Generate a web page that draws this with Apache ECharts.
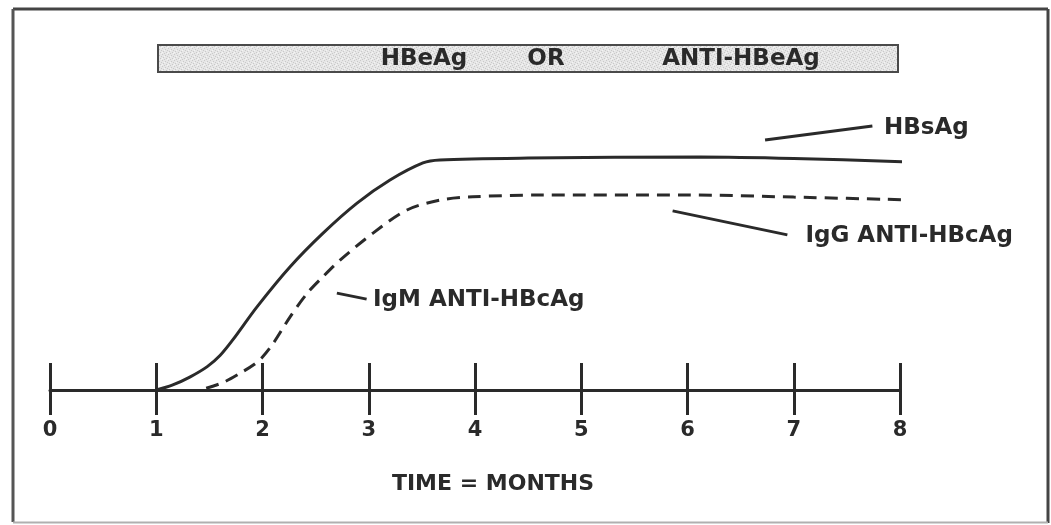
<!DOCTYPE html>
<html>
<head>
<meta charset="utf-8">
<script src="https://cdn.jsdelivr.net/npm/echarts@6/dist/echarts.min.js"></script>
<style>
  html, body { margin: 0; padding: 0; background: #fff; }
  #chart { width: 1051px; height: 525px; }
</style>
</head>
<body>
<div id="chart"></div>
<script>
// Time axis (months)
const monthTicks = [0, 1, 2, 3, 4, 5, 6, 7, 8];

// Serologic markers: [month, relative level]
const hbsAg = [
  [1.0, 0], [1.15, 1.6], [1.32, 4.4], [1.48, 7.8], [1.6, 11.5], [1.72, 16.7],
  [1.95, 27.8], [2.26, 41.1], [2.57, 52.3], [2.89, 62.3], [3.2, 70], [3.51, 75.7],
  [3.67, 76.7], [4.5, 77.3], [6.12, 77.7], [7.0, 77.2], [8.07, 76]
];
const antiHBc = [
  [1.47, 0.6], [1.63, 2.5], [1.79, 5.6], [1.92, 8.5], [2.0, 11], [2.1, 15.5],
  [2.26, 24.4], [2.42, 32.2], [2.57, 37.8], [2.73, 43.3], [3.04, 52.3], [3.36, 60],
  [3.67, 63.3], [3.98, 64.4], [4.61, 65], [6.0, 65], [7.0, 64.3], [8.16, 63.3]
];

// Callout labels: [month, level, text]
const callouts = [
  [7.85, 87.3, 'HBsAg'],
  [7.11, 51.3, 'IgG ANTI-HBcAg'],
  [3.04, 30.0, 'IgM ANTI-HBcAg']
];
// Leader lines: [[x1, y1], [x2, y2]]
const leaders = [
  [[6.73, 83.3], [7.74, 88.0]],
  [[5.86, 59.7], [6.94, 51.7]],
  [[2.70, 32.3], [2.98, 30.3]]
];

// Banner words
const bannerWords = ['HBeAg', 'OR', 'ANTI-HBeAg'];
const axisTitle = 'TIME = MONTHS';

const INK = '#2a2a2a';
const FONT = '"DejaVu Sans", "Liberation Sans", Arial, sans-serif';

// stippled fill for the banner
function stipple() {
  const c = document.createElement('canvas');
  c.width = 6; c.height = 6;
  const g = c.getContext('2d');
  g.fillStyle = '#e6e6e6';
  g.fillRect(0, 0, 6, 6);
  g.fillStyle = '#c9c9c9';
  [[0,0],[3,1],[1,3],[4,4],[2,5],[5,2]].forEach(p => g.fillRect(p[0], p[1], 1, 1));
  g.fillStyle = '#f4f4f4';
  [[2,2],[5,5],[0,4]].forEach(p => g.fillRect(p[0], p[1], 1, 1));
  return c;
}

const chart = echarts.init(document.getElementById('chart'), null, { renderer: 'canvas' });

const bannerX = 158, bannerY = 45, bannerW = 740, bannerH = 27;
const wordCenters = [424, 546, 741];

chart.setOption({
  animation: false,
  backgroundColor: '#ffffff',
  grid: [
    { left: 50, right: 151, top: 30, bottom: 135 },
    { left: 50, right: 151, top: 363, height: 52 }
  ],
  xAxis: [
    {
      gridIndex: 0, type: 'value', min: 0, max: 8, interval: 1,
      axisLine: { show: true, lineStyle: { color: INK, width: 3 } },
      axisTick: { show: false },
      splitLine: { show: false },
      axisLabel: {
        show: true, margin: 30, color: INK,
        fontFamily: FONT, fontWeight: 'bold', fontSize: 21,
        formatter: v => monthTicks.indexOf(v) >= 0 ? String(v) : ''
      }
    },
    {
      gridIndex: 1, type: 'value', min: 0, max: 8, interval: 1,
      axisLine: { show: false }, axisTick: { show: false }, axisLabel: { show: false },
      splitLine: { show: true, showMinLine: true, showMaxLine: true, lineStyle: { color: INK, width: 3 } }
    }
  ],
  yAxis: [
    { gridIndex: 0, type: 'value', min: 0, max: 120, show: false },
    { gridIndex: 1, type: 'value', min: 0, max: 1, show: false }
  ],
  series: [
    {
      name: 'HBsAg', type: 'line', data: hbsAg, smooth: 0.3,
      showSymbol: false, clip: false,
      lineStyle: { color: INK, width: 3 }
    },
    {
      name: 'IgG ANTI-HBcAg', type: 'line', data: antiHBc, smooth: 0.3,
      showSymbol: false, clip: false,
      lineStyle: { color: INK, width: 3, type: [13, 8] }
    },
    {
      name: 'callouts', type: 'scatter', symbolSize: 0, silent: true, clip: false,
      itemStyle: { opacity: 1 },
      data: callouts.map(c => ({ value: [c[0], c[1]], name: c[2] })),
      label: {
        show: true, position: 'right', distance: 0, formatter: p => p.name,
        color: INK, opacity: 1, fontFamily: FONT, fontWeight: 'bold', fontSize: 23
      },
      markLine: {
        silent: true, symbol: 'none',
        lineStyle: { color: INK, width: 3, type: 'solid', opacity: 1 },
        label: { show: false },
        data: leaders.map(l => [{ coord: l[0] }, { coord: l[1] }])
      }
    }
  ],
  graphic: [
    // frame
    { type: 'line', shape: { x1: 13, y1: 9, x2: 1048, y2: 9 }, style: { stroke: '#444', lineWidth: 3 } },
    { type: 'line', shape: { x1: 13, y1: 9, x2: 13, y2: 522 }, style: { stroke: '#555', lineWidth: 3 } },
    { type: 'line', shape: { x1: 1048, y1: 9, x2: 1048, y2: 523 }, style: { stroke: '#444', lineWidth: 3 } },
    { type: 'line', shape: { x1: 13, y1: 522.5, x2: 1048, y2: 522.5 }, style: { stroke: '#b0b0b0', lineWidth: 2 } },
    // banner
    {
      type: 'rect', shape: { x: bannerX, y: bannerY, width: bannerW, height: bannerH },
      style: { fill: { image: stipple(), repeat: 'repeat' }, stroke: '#4a4a4a', lineWidth: 2 }
    }
  ].concat(bannerWords.map((w, i) => ({
    type: 'text', x: wordCenters[i], y: bannerY + bannerH / 2 + 1,
    style: {
      text: w, fill: INK, font: 'bold 23px ' + FONT,
      textAlign: 'center', textVerticalAlign: 'middle'
    }
  }))).concat([{
    type: 'text', x: 493, y: 484,
    style: {
      text: axisTitle, fill: INK, font: 'bold 22px ' + FONT,
      textAlign: 'center', textVerticalAlign: 'middle'
    }
  }])
});
</script>
</body>
</html>
